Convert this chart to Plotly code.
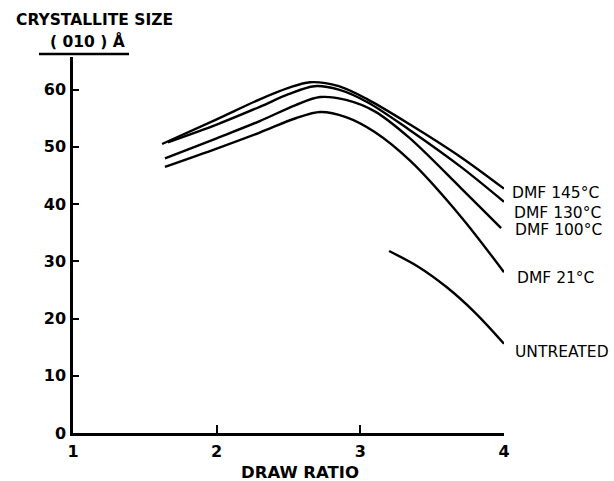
import plotly.graph_objects as go

# Crystallite size (010), in angstroms, against draw ratio
x_145 = [1.62, 2.0, 2.3, 2.5, 2.65, 2.85, 3.05, 3.34, 3.7, 4.0]
y_145 = [50.5, 54.8, 58.3, 60.3, 61.3, 60.6, 58.3, 54.0, 48.2, 42.7]

x_130 = [1.66, 2.0, 2.3, 2.5, 2.68, 2.85, 3.05, 3.34, 3.7, 4.0]
y_130 = [50.8, 53.9, 57.0, 59.2, 60.6, 60.0, 57.8, 53.0, 46.5, 40.4]

x_100 = [1.64, 2.0, 2.3, 2.55, 2.72, 2.9, 3.1, 3.34, 3.7, 3.98]
y_100 = [48.0, 51.5, 54.5, 57.3, 58.7, 58.2, 56.2, 51.6, 42.8, 35.8]

x_21 = [1.64, 2.0, 2.3, 2.55, 2.72, 2.9, 3.1, 3.35, 3.7, 4.0]
y_21 = [46.5, 49.7, 52.5, 55.0, 56.1, 55.2, 52.6, 47.5, 37.8, 28.1]

x_untreated = [3.2, 3.4, 3.6, 3.8, 4.0]
y_untreated = [31.8, 29.1, 25.5, 21.0, 15.6]

series_names = ["DMF 145°C", "DMF 130°C", "DMF 100°C", "DMF 21°C", "UNTREATED"]
# label anchors, as fractions of the plotting area
label_px = [1.014, 1.019, 1.021, 1.026, 1.021]
label_py = [0.638, 0.586, 0.540, 0.412, 0.215]

x_ticks = [1, 2, 3, 4]
y_ticks = [0, 10, 20, 30, 40, 50, 60]

series = [
    (x_145, y_145),
    (x_130, y_130),
    (x_100, y_100),
    (x_21, y_21),
    (x_untreated, y_untreated),
]

fig = go.Figure()
for (xs, ys), name in zip(series, series_names):
    fig.add_trace(go.Scatter(
        x=xs, y=ys, mode="lines", name=name,
        line=dict(color="black", width=2.4, shape="spline", smoothing=0.9),
        showlegend=False, hoverinfo="skip",
    ))

label_font = dict(family="DejaVu Sans", size=15.5, color="black")
for name, lx, ly in zip(series_names, label_px, label_py):
    fig.add_annotation(x=lx, y=ly, xref="paper", yref="paper", text=name,
                       showarrow=False, xanchor="left", yanchor="middle",
                       font=label_font)

bold = dict(family="DejaVu Sans", size=15.5, color="black", weight="bold")
fig.add_annotation(x=0.051, y=1.098, xref="paper", yref="paper",
                   text="CRYSTALLITE SIZE", showarrow=False,
                   xanchor="center", yanchor="middle", font=bold)
fig.add_annotation(x=0.034, y=1.040, xref="paper", yref="paper",
                   text="( 010 ) Å", showarrow=False,
                   xanchor="center", yanchor="middle", font=bold)
fig.add_annotation(x=0.527, y=-0.106, xref="paper", yref="paper",
                   text="DRAW RATIO", showarrow=False,
                   xanchor="center", yanchor="middle",
                   font=dict(family="DejaVu Sans", size=16.5, color="black", weight="bold"))

# underline beneath the y-axis heading
fig.add_shape(type="line", xref="paper", yref="paper",
              x0=-0.079, x1=0.13, y0=1.008, y1=1.008,
              line=dict(color="black", width=2.5))

tick_font = dict(family="DejaVu Sans", size=16, color="black", weight="bold")
fig.update_xaxes(range=[1, 4], tickvals=x_ticks, ticktext=[str(v) for v in x_ticks],
                 showline=True, linecolor="black", linewidth=2.5,
                 ticks="inside", ticklen=8, tickwidth=2, tickcolor="black",
                 showgrid=False, zeroline=False, tickfont=tick_font,
                 ticklabelstandoff=2)
fig.update_yaxes(range=[0, 65.7], tickvals=y_ticks, ticktext=[str(v) for v in y_ticks],
                 showline=True, linecolor="black", linewidth=2.5,
                 ticks="inside", ticklen=6, tickwidth=2, tickcolor="black",
                 showgrid=False, zeroline=False, tickfont=tick_font,
                 ticklabelstandoff=1)

fig.update_layout(
    width=614, height=481,
    margin=dict(l=73, r=110, t=57, b=48),
    plot_bgcolor="white", paper_bgcolor="white",
)

fig.write_html("out.html")
